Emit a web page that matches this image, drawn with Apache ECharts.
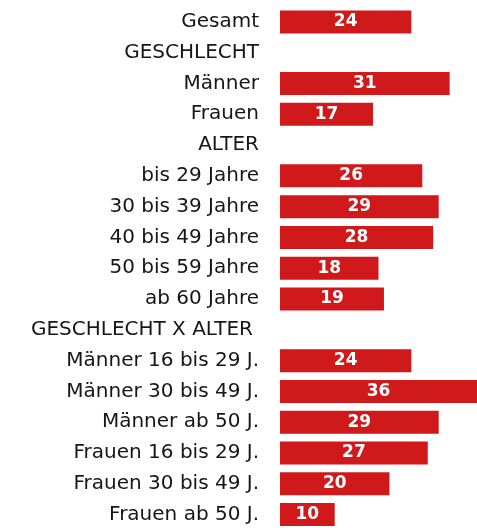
<!DOCTYPE html>
<html>
<head>
<meta charset="utf-8">
<script src="https://cdn.jsdelivr.net/npm/echarts@6/dist/echarts.min.js"></script>
<style>
  html, body { margin: 0; padding: 0; background: #fff; }
  #main { width: 477px; height: 530px; }
</style>
</head>
<body>
<div id="main"></div>
<script>
// Zeilen (Überschriften ohne Balken haben null)
const categories = [
  "Gesamt",
  "GESCHLECHT",
  "Männer",
  "Frauen",
  "ALTER",
  "bis 29 Jahre",
  "30 bis 39 Jahre",
  "40 bis 49 Jahre",
  "50 bis 59 Jahre",
  "ab 60 Jahre",
  "GESCHLECHT X ALTER",
  "Männer 16 bis 29 J.",
  "Männer 30 bis 49 J.",
  "Männer ab 50 J.",
  "Frauen 16 bis 29 J.",
  "Frauen 30 bis 49 J.",
  "Frauen ab 50 J.",
];
const values = [24, null, 31, 17, null, 26, 29, 28, 18, 19, null, 24, 36, 29, 27, 20, 10];

const chart = echarts.init(document.getElementById("main"), null, { renderer: "canvas" });

chart.setOption({
  animation: false,
  grid: { left: 280, top: 6.5, width: 201, height: 527, containLabel: false },
  xAxis: {
    type: "value",
    min: 0,
    max: 36,
    show: false,
  },
  yAxis: {
    type: "category",
    data: categories,
    inverse: true,
    axisLine: { show: false },
    axisTick: { show: false },
    axisLabel: {
      margin: 21,
      color: "#161616",
      fontSize: 20,
      fontFamily: "DejaVu Sans",
      // die letzte Überschrift steht etwas weiter links
      formatter: (v) => (v === "GESCHLECHT X ALTER" ? "{h|" + v + "}" : v),
      rich: {
        h: { fontSize: 20, fontFamily: "DejaVu Sans", color: "#161616", padding: [0, 6, 0, 0] },
      },
    },
  },
  series: [
    {
      type: "bar",
      data: values,
      barWidth: 23,
      itemStyle: { color: "#d0191b" },
      label: {
        show: true,
        position: "inside",
        color: "#fff",
        fontWeight: "bold",
        fontSize: 17,
        fontFamily: "DejaVu Sans",
      },
    },
  ],
});
</script>
</body>
</html>
